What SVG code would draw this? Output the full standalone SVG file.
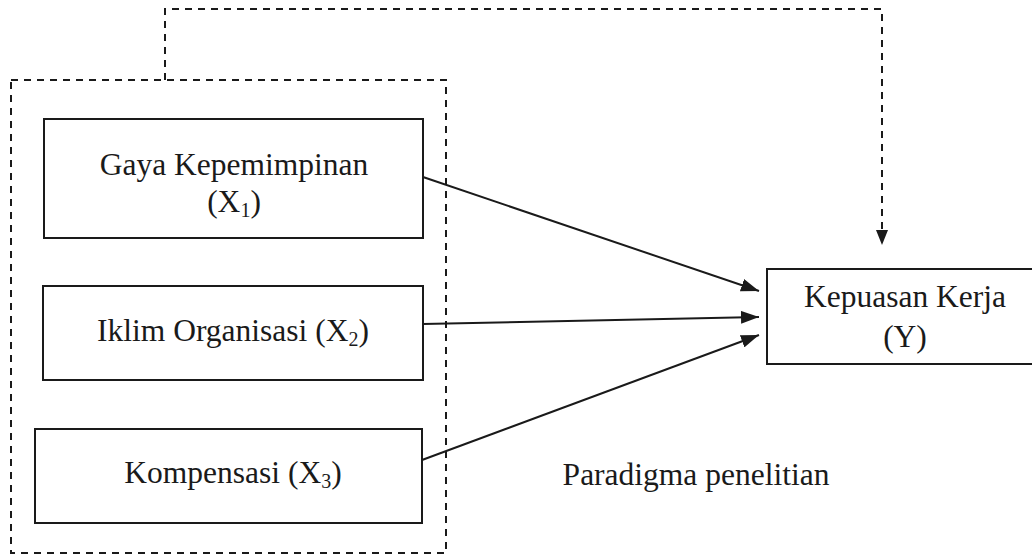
<svg xmlns="http://www.w3.org/2000/svg" width="1032" height="555" viewBox="0 0 1032 555">
<style>
.box{fill:none;stroke:#1a1a1a;stroke-width:2}
.dash{fill:none;stroke:#1a1a1a;stroke-width:2;stroke-dasharray:7 6}
.ln{fill:none;stroke:#1a1a1a;stroke-width:2}
.t{font-family:"Liberation Serif","Times New Roman",serif;font-size:31.5px;fill:#1a1a1a;text-anchor:middle}
.sub{font-size:20px}
</style>
<defs>
<marker id="ah" viewBox="0 0 18 13" refX="18" refY="6.5" markerWidth="18" markerHeight="13" markerUnits="userSpaceOnUse" orient="auto">
<path d="M0,0 L18,6.5 L0,13 Z" fill="#1a1a1a"/>
</marker>
</defs>
<g id="group-frame">
<rect class="dash" x="11" y="80" width="435" height="473"/>
</g>
<g id="node-x1">
<rect class="box" x="44" y="119" width="379" height="119"/>
<text class="t" x="234" y="175">Gaya Kepemimpinan</text>
<text class="t" x="234" y="212">(X<tspan class="sub" dy="5">1</tspan><tspan dy="-5">)</tspan></text>
</g>
<g id="node-x2">
<rect class="box" x="43" y="286" width="380" height="94"/>
<text class="t" x="233" y="341">Iklim Organisasi (X<tspan class="sub" dy="5">2</tspan><tspan dy="-5">)</tspan></text>
</g>
<g id="node-x3">
<rect class="box" x="35" y="429" width="387" height="94"/>
<text class="t" x="233" y="483">Kompensasi (X<tspan class="sub" dy="5">3</tspan><tspan dy="-5">)</tspan></text>
</g>
<g id="node-y">
<rect class="box" x="767" y="269" width="270" height="95"/>
<text class="t" x="905" y="307">Kepuasan Kerja</text>
<text class="t" x="905" y="347">(Y)</text>
</g>
<g id="caption">
<text class="t" x="696" y="485">Paradigma penelitian</text>
</g>
<g id="connectors">
<line class="ln" x1="423" y1="177" x2="759" y2="291" marker-end="url(#ah)"/>
<line class="ln" x1="423" y1="324" x2="759" y2="317" marker-end="url(#ah)"/>
<line class="ln" x1="422" y1="460" x2="759" y2="335" marker-end="url(#ah)"/>
<polyline class="dash" points="165,80 165,9 882,9 882,232"/>
<path d="M876,230 L888,230 L882,245 Z" fill="#1a1a1a"/>
</g>
</svg>
